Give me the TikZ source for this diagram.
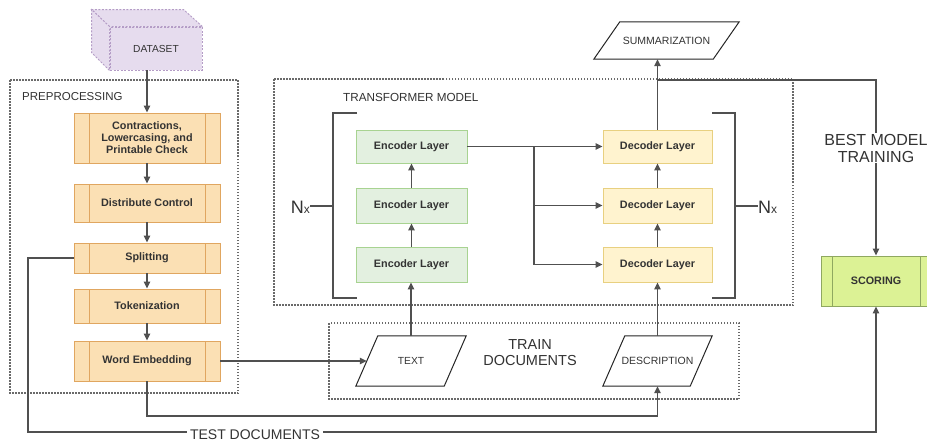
\documentclass[tikz,border=0pt]{standalone}
\usepackage{fontspec}
\setmainfont{Liberation Sans}
\usetikzlibrary{arrows.meta,calc}
\definecolor{linegray}{HTML}{505050}
\definecolor{dotgray}{HTML}{6A6A6A}
\definecolor{textdark}{HTML}{333333}
\definecolor{procfill}{HTML}{FBE0B4}
\definecolor{procborder}{HTML}{E0A660}
\definecolor{encfill}{HTML}{E3F0E0}
\definecolor{encborder}{HTML}{A8D391}
\definecolor{decfill}{HTML}{FFF3CF}
\definecolor{decborder}{HTML}{E8D080}
\definecolor{scorefill}{HTML}{DCF295}
\definecolor{scoreborder}{HTML}{8FA860}
\definecolor{cubefill}{HTML}{E6DCEE}
\definecolor{cubeborder}{HTML}{B49CC6}
\begin{document}
\begin{tikzpicture}[x=1pt,y=-1pt,
  conn/.style={draw=linegray, line width=1.1pt},
  arr/.style={conn, -{Triangle[length=7pt,width=6.5pt]}},
  dotbox/.style={draw=dotgray, line width=1.1pt, dash pattern=on 1.5pt off 1.5pt},
  boldtxt/.style={font=\bfseries\fontsize{10.8}{12}\selectfont, text=textdark, align=center, inner sep=0pt},
  proc/.style={boldtxt, draw=procborder, fill=procfill, line width=0.9pt, minimum width=146pt,
    path picture={\draw[procborder, line width=0.9pt]
      ([xshift=15pt]path picture bounding box.north west) -- ([xshift=15pt]path picture bounding box.south west)
      ([xshift=-15pt]path picture bounding box.north east) -- ([xshift=-15pt]path picture bounding box.south east);}},
  enc/.style={boldtxt, draw=encborder, fill=encfill, line width=0.9pt, minimum width=111pt},
  dec/.style={boldtxt, draw=decborder, fill=decfill, line width=0.9pt, minimum width=109pt},
  score/.style={boldtxt, draw=scoreborder, fill=scorefill, line width=0.9pt, minimum width=110pt, minimum height=50pt,
    path picture={\draw[scoreborder, line width=0.9pt]
      ([xshift=11pt]path picture bounding box.north west) -- ([xshift=11pt]path picture bounding box.south west)
      ([xshift=-11pt]path picture bounding box.north east) -- ([xshift=-11pt]path picture bounding box.south east);}},
  para/.style={font=\fontsize{10.3}{12}\selectfont, text=textdark, inner sep=0pt, minimum height=50pt},
  plain/.style={text=textdark, inner sep=0pt, align=center},
  shapeline/.style={draw=black!85, line width=1pt}
]
\clip (0,0) rectangle (927,442);
\fill[white] (0,0) rectangle (927,442);

% dotted groups
\draw[dotbox] (10,80) rectangle (238,393);
\draw[dotbox] (274,79) rectangle (793,305);
\draw[dotbox] (329,323) rectangle (739,399);
\node[plain, font=\fontsize{11.5}{13}\selectfont, anchor=west] (preplbl) at (22,97) {PREPROCESSING};
\node[plain, font=\fontsize{11.7}{13}\selectfont, anchor=west] (trlbl) at (343,97) {TRANSFORMER MODEL};
\node[plain, font=\fontsize{14.5}{16}\selectfont] (trainlbl) at (530,353) {TRAIN\\DOCUMENTS};

% dataset cube
\node[plain, draw=cubeborder, fill=cubefill, line width=0.9pt, dash pattern=on 2pt off 1.5pt,
  minimum width=92pt, minimum height=43pt, font=\fontsize{10.2}{12}\selectfont] (dataset) at (156,48.5) {DATASET};
\draw[draw=cubeborder, fill=cubefill, line width=0.9pt, dash pattern=on 2pt off 1.5pt]
  (dataset.north west) -- ++(-18,-17) -- ++(92,0) -- (dataset.north east) -- cycle;
\draw[draw=cubeborder, fill=cubefill, line width=0.9pt, dash pattern=on 2pt off 1.5pt]
  (dataset.north west) -- ++(-18,-17) -- ++(0,43) -- (dataset.south west) -- cycle;

% preprocessing steps
\node[proc, minimum height=50pt] (b1) at (147,138) {Contractions,\\Lowercasing, and\\Printable Check};
\node[proc, minimum height=38pt] (b2) at (147,203) {Distribute Control};
\node[proc, minimum height=30pt] (b3) at (147,258) {Splitting};
\node[proc, minimum height=34pt] (b4) at (147,306) {Tokenization};
\node[proc, minimum height=40pt] (b5) at (147,361) {Word Embedding};

\draw[arr] (dataset.south -| b1.north) -- (b1.north);
\draw[arr] (b1) -- (b2);
\draw[arr] (b2) -- (b3);
\draw[arr] (b3) -- (b4);
\draw[arr] (b4) -- (b5);

% encoders / decoders
\node[enc, minimum height=33pt] (e1) at (411.5,146.5) {Encoder Layer};
\node[enc, minimum height=35pt] (e2) at (411.5,205.5) {Encoder Layer};
\node[enc, minimum height=35pt] (e3) at (411.5,264.5) {Encoder Layer};
\node[dec, minimum height=33pt] (d1) at (657.5,146.5) {Decoder Layer};
\node[dec, minimum height=35pt] (d2) at (657.5,205.5) {Decoder Layer};
\node[dec, minimum height=35pt] (d3) at (657.5,264.5) {Decoder Layer};

\draw[arr] (e3) -- (e2);
\draw[arr] (e2) -- (e1);
\draw[arr] (d3) -- (d2);
\draw[arr] (d2) -- (d1);

\coordinate (br) at (534,0);
\draw[arr] (e1.east) -- (d1.west);
\draw[arr] (br |- e1.east) -- (br |- d3.west) -- (d3.west);
\draw[arr] (br |- d2.west) -- (d2.west);

% brackets
\draw[conn] (357,113) -- (333,113) -- (333,298) -- (357,298);
\draw[conn] (712,113) -- (735,113) -- (735,298) -- (712,298);
\node[plain, anchor=east] (nxl) at (310,207) {{\fontsize{18}{18}\selectfont N}{\fontsize{12}{12}\selectfont x}};
\node[plain, anchor=west] (nxr) at (758,207) {{\fontsize{18}{18}\selectfont N}{\fontsize{12}{12}\selectfont x}};
\draw[conn] (nxl.east |- 0,206) -- (333,206);
\draw[conn] (735,206) -- (nxr.west |- 0,206);

% summarization
\node[para, minimum width=119pt, minimum height=37pt, font=\fontsize{10.5}{12}\selectfont] (summ) at (666.5,40.5) {SUMMARIZATION};
\draw[shapeline] ($(summ.north west)+(13,0)$) -- ($(summ.north east)+(13,0)$) -- ($(summ.south east)+(-13,0)$) -- ($(summ.south west)+(-13,0)$) -- cycle;
\draw[arr] (d1.north) -- (d1.north |- summ.south);

% train documents
\node[para, minimum width=88pt] (txt) at (411,361) {TEXT};
\draw[shapeline] ($(txt.north west)+(11,0)$) -- ($(txt.north east)+(11,0)$) -- ($(txt.south east)+(-11,0)$) -- ($(txt.south west)+(-11,0)$) -- cycle;
\node[para, minimum width=87pt, font=\fontsize{10.5}{12}\selectfont] (desc) at (657.5,361) {DESCRIPTION};
\draw[shapeline] ($(desc.north west)+(11,0)$) -- ($(desc.north east)+(11,0)$) -- ($(desc.south east)+(-11,0)$) -- ($(desc.south west)+(-11,0)$) -- cycle;

\draw[arr] (txt.north) -- (txt.north |- e3.south);
\draw[arr] (desc.north) -- (desc.north |- d3.south);
\draw[arr] (b5.east) -- (txt.west);
\draw[arr] (b5.south) -- (147,416) -- (desc.south |- 0,416) -- (desc.south);

% scoring
\node[score] (sc) at (876,281) {SCORING};
\coordinate (sb) at (657,80);
\draw[arr] (sb) -- (sc.north |- sb) -- (sc.north);
\node[plain, fill=white, inner sep=1pt, font=\fontsize{16}{17}\selectfont] (best) at (876,148) {BEST MODEL\\TRAINING};

\coordinate (tl) at (28,0);
\coordinate (bl) at (0,432);
\draw[arr] (b3.west) -- (tl |- b3.west) -- (tl |- bl) -- (sc.south |- bl) -- (sc.south);
\node[plain, fill=white, inner xsep=3pt, inner ysep=1pt, font=\fontsize{14}{15}\selectfont] (testlbl) at (255,435) {TEST DOCUMENTS};
\end{tikzpicture}
\end{document}
